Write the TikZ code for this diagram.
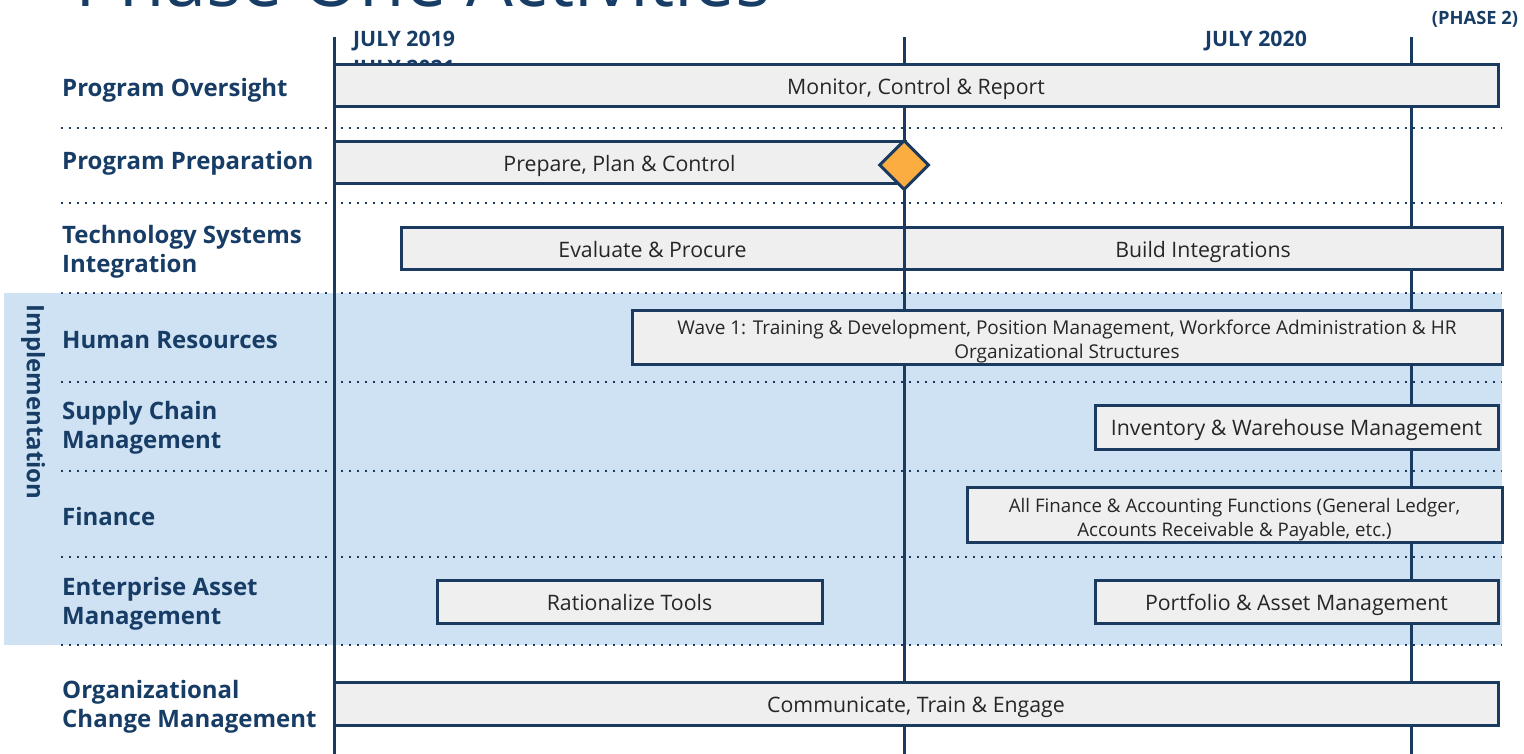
\documentclass[tikz,border=0pt]{standalone}
\usepackage{fontspec}
\setmainfont{Open Sans}
\usetikzlibrary{shapes.geometric}
\definecolor{navy}{HTML}{1A3A60}
\definecolor{labnavy}{HTML}{173D66}
\definecolor{lblue}{HTML}{CFE2F3}
\definecolor{barfill}{HTML}{EFEFEF}
\definecolor{orng}{HTML}{FBAD41}
% #1 name, #2-#5 box corners, #6 downward text shift, #7 text
\newcommand\taskbar[7]{%
  \node[barbox, minimum width={#4-#2}, minimum height={#5-#3}] (#1) at ({(#2+#4)/2},{(#3+#5)/2}) {};
  \node[bartext] (#1t) at ([yshift=-#6pt]#1.center) {#7};}
\begin{document}
\begin{tikzpicture}[x=1pt,y=-1pt,
 lab/.style={anchor=west, align=left, font=\fontsize{24}{29}\selectfont\bfseries, text=labnavy, inner sep=0pt},
 barbox/.style={draw=navy, line width=3pt, fill=barfill, inner sep=0pt},
 bartext/.style={inner sep=0pt, font=\fontsize{21.3}{24}\selectfont, text=black!85, align=center},
 sepline/.style={navy, line width=1.8pt, dash pattern=on 1.8pt off 6.2pt},
 vline/.style={navy, line width=3pt},
 hdr/.style={font=\fontsize{21.25}{24}\selectfont\bfseries, text=labnavy, inner sep=0pt}]
\useasboundingbox (0,0) rectangle (1524,754);
\clip (0,0) rectangle (1524,754);
% title (cut off at top)
\node[anchor=base west, font=\fontsize{74}{80}\selectfont, text=labnavy, inner sep=0pt] (title) at (75,7) {Phase One Activities};
% implementation band
\fill[lblue] (4,293) rectangle (1502,645);
\node[rotate=-90, font=\fontsize{24}{28}\selectfont\bfseries, text=labnavy, inner sep=0pt] (impl) at (33,402) {Implementation};
% separators
\foreach \yy in {128,203,293,382,471,557,645}{\draw[sepline] (61,\yy) -- (1502,\yy);}
% header
\node[hdr, anchor=west] (j2021) at (353,70) {JULY 2021};
\node[hdr, anchor=west] (j2019) at (353,41) {JULY 2019};
\node[hdr] (j2020) at (1256,41) {JULY 2020};
\node[hdr, font=\fontsize{18.3}{22}\selectfont\bfseries] (ph2) at (1475,19) {(PHASE 2)};
% vertical lines
\coordinate (v1t) at (334,37); \coordinate (v1b) at (334,754);
\coordinate (v2t) at (904,37); \coordinate (v2b) at (904,754);
\coordinate (v3t) at (1411,37); \coordinate (v3b) at (1411,754);
\draw[vline] (v1t) -- (v1b);
\draw[vline] (v2t) -- (v2b);
\draw[vline] (v3t) -- (v3b);
% row labels
\node[lab] (l1) at (62,90) {Program Oversight};
\node[lab] (l2) at (62,163) {Program Preparation};
\node[lab] (l3) at (62,251.5) {Technology Systems\\Integration};
\node[lab] (l4) at (62,340) {Human Resources};
\node[lab] (l5) at (62,427.5) {Supply Chain\\Management};
\node[lab] (l6) at (62,516) {Finance};
\node[lab] (l7) at (62,603.5) {Enterprise Asset\\Management};
\node[lab] (l8) at (62,706.5) {Organizational\\Change Management};
% bars
\taskbar{b1}{334}{65}{1498}{107}{3}{Monitor, Control \& Report}
\taskbar{b2}{334}{142}{905}{184}{3}{Prepare, Plan \& Control}
\taskbar{b3}{401}{228}{904}{270}{1}{Evaluate \& Procure}
\taskbar{b4}{904}{228}{1502}{270}{2.5}{Build Integrations}
\taskbar{b5}{632}{310}{1502}{364}{5}{\fontsize{19}{23}\selectfont Wave 1: Training \& Development, Position Management, Workforce Administration \& HR\\\fontsize{19}{23}\selectfont Organizational Structures}
\taskbar{b6}{1095}{405}{1498}{449}{3}{Inventory \& Warehouse Management}
\taskbar{b7}{967}{487}{1502}{542}{5}{\fontsize{18.7}{22}\selectfont All Finance \& Accounting Functions (General Ledger,\\\fontsize{18.7}{22}\selectfont Accounts Receivable \& Payable, etc.)}
\taskbar{b8}{437}{580}{822}{623}{1}{Rationalize Tools}
\taskbar{b9}{1095}{580}{1498}{623}{3}{Portfolio \& Asset Management}
\taskbar{b10}{334}{682}{1498}{725}{3.5}{Communicate, Train \& Engage}
% milestone
\node[diamond, draw=navy, line width=3pt, fill=orng, minimum width=50pt, minimum height=50pt, inner sep=0pt] (ms) at (904,165) {};
\end{tikzpicture}
\end{document}
